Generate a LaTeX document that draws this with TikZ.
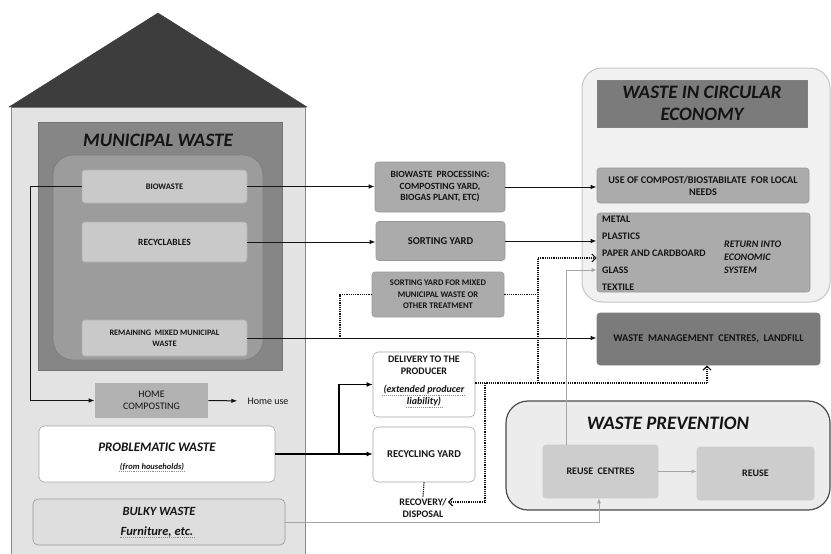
\documentclass[tikz,border=0pt]{standalone}
\usepackage{fontspec}
\setmainfont{Carlito}
\usetikzlibrary{arrows.meta}
\definecolor{housefill}{HTML}{E3E3E3}
\definecolor{houseedge}{HTML}{8A8A8A}
\definecolor{roof}{HTML}{3D3D3D}
\definecolor{muni}{HTML}{868686}
\definecolor{inner}{HTML}{9C9C9C}
\definecolor{lightbox}{HTML}{C9C9C9}
\definecolor{homebox}{HTML}{B2B2B2}
\definecolor{midbox}{HTML}{ABABAB}
\definecolor{darkbox}{HTML}{7B7B7B}
\definecolor{cefill}{HTML}{F1F1F1}
\definecolor{wpfill}{HTML}{ECECEC}
\definecolor{reusebox}{HTML}{CDCDCD}
\definecolor{ink}{HTML}{141414}
\begin{document}
\begin{tikzpicture}[x=1pt,y=-1pt,
  lbl/.style={font=\bfseries\fontsize{9.5}{11}\selectfont, align=center, text=ink, inner sep=1pt},
  plain/.style={font=\fontsize{10}{11.5}\selectfont, align=center, text=ink, inner sep=1pt},
  title/.style={font=\bfseries\itshape\fontsize{19}{22}\selectfont, align=center, text=ink, inner sep=0pt},
  midtitle/.style={font=\bfseries\itshape\fontsize{12.5}{14}\selectfont, align=center, text=ink, inner sep=0pt},
  wavyline/.style={draw=black!45, line width=0.9pt, densely dotted},
  boxbase/.style={rounded corners=3pt, line width=0.6pt, inner sep=0pt},
  lbox/.style={boxbase, fill=lightbox, draw=black!30},
  mbox/.style={boxbase, fill=midbox, draw=black!40},
  dbox/.style={boxbase, fill=darkbox, draw=black!50},
  wbox/.style={boxbase, fill=white, draw=black!35},
  gbox/.style={boxbase, fill=reusebox, draw=black!20},
  conn/.style={draw=ink, line width=1pt, -{Latex[length=6pt,width=4.5pt]}},
  thick conn/.style={draw=black, line width=1.8pt, -{Latex[length=6pt,width=5pt]}},
  dotconn/.style={draw=ink, line width=1.2pt, densely dotted},
  dotarrow/.style={dotconn, -{Straight Barb[length=4pt,width=8pt,line width=1.2pt]}},
  grayconn/.style={draw=black!35, line width=0.9pt, -{Latex[length=5pt,width=4pt]}},
]
\useasboundingbox (0,0) rectangle (831,554);
\fill[white] (0,0) rectangle (831,554);

% house
\filldraw[fill=housefill, draw=houseedge, line width=1pt] (11,107) rectangle (305,560);
\filldraw[fill=roof, draw=roof] (9,107) -- (158,13) -- (307,107) -- cycle;
\filldraw[fill=muni, draw=black!55, line width=0.6pt] (38,122) rectangle (282,370);
\node[title] (muniT) at (158,140) {MUNICIPAL WASTE};
\filldraw[fill=inner, draw=black!50, line width=0.8pt, rounded corners=20pt] (53,155) rectangle (263,360);

\node[lbox, lbl, font=\bfseries\fontsize{8.5}{11}\selectfont, minimum width=165pt, minimum height=33pt] (bio) at (164.5,186.5) {BIOWASTE};
\node[lbox, lbl, font=\bfseries\fontsize{9.5}{11}\selectfont, minimum width=165pt, minimum height=40pt] (recyc) at (164.5,242) {RECYCLABLES};
\node[lbox, lbl, font=\bfseries\fontsize{8.3}{11}\selectfont, minimum width=165pt, minimum height=36pt] (remain) at (164.5,338) {REMAINING\ \ MIXED MUNICIPAL\\WASTE};

\node[boxbase, rounded corners=0pt, fill=homebox, plain, minimum width=113pt, minimum height=35pt] (home) at (151.5,400.5) {HOME\\COMPOSTING};
\node[plain] (homeuse) at (268,401) {Home use};

\node[wbox, minimum width=236pt, minimum height=56pt, rounded corners=5pt] (prob) at (157,454) {};
\node[midtitle, font=\bfseries\itshape\fontsize{13}{14}\selectfont] (probT) at (157,447) {PROBLEMATIC WASTE};
\node[font=\bfseries\itshape\fontsize{8.5}{9}\selectfont, text=ink, inner sep=0.5pt] (probS) at (152,467) {(from households)};
\draw[wavyline] (probS.south west) -- (probS.south east);

\node[boxbase, fill=black!13, draw=black!40, rounded corners=5pt, minimum width=252pt, minimum height=46pt] (bulky) at (159,522) {};
\node[midtitle] (bulkyT) at (159,511) {BULKY WASTE};
\node[midtitle, inner sep=1pt] (bulkyS) at (157,532) {Furniture, etc.};
\draw[wavyline] ([yshift=1pt]bulkyS.south west) -- ([yshift=1pt]bulkyS.south east);

% middle column
\node[mbox, lbl, minimum width=130pt, minimum height=50pt] (bproc) at (440,187) {BIOWASTE\ \ PROCESSING:\\[1pt] COMPOSTING YARD,\\BIOGAS PLANT, ETC)};
\node[mbox, lbl, font=\bfseries\fontsize{10.5}{12}\selectfont, minimum width=129pt, minimum height=39pt] (sort) at (440.5,241) {SORTING YARD};
\node[mbox, lbl, font=\bfseries\fontsize{8.6}{11.5}\selectfont, minimum width=132pt, minimum height=45pt] (sortmix) at (438,294.5) {SORTING YARD FOR MIXED\\MUNICIPAL WASTE OR\\OTHER TREATMENT};
\node[wbox, minimum width=102pt, minimum height=65pt, rounded corners=5pt] (deliv) at (424,384.5) {};
\node[lbl, font=\bfseries\fontsize{10}{12}\selectfont] (delivT) at (424,365) {DELIVERY TO THE\\PRODUCER};
\node[lbl, font=\bfseries\itshape\fontsize{10}{11}\selectfont] (delivS1) at (424,390) {(extended producer};
\node[lbl, font=\bfseries\itshape\fontsize{10}{11}\selectfont] (delivS2) at (424,402) {liability)};
\draw[wavyline] (delivS1.south west) -- (delivS1.south east);
\draw[wavyline] (delivS2.south west) -- (delivS2.south east);
\node[wbox, lbl, font=\bfseries\fontsize{10.5}{12}\selectfont, minimum width=102pt, minimum height=55pt, rounded corners=5pt] (ryard) at (424,454.5) {RECYCLING YARD};
\node[lbl, font=\bfseries\fontsize{10}{12}\selectfont] (recov) at (423,508) {RECOVERY/\\DISPOSAL};

% circular economy
\filldraw[fill=cefill, draw=black!22, line width=1pt, rounded corners=20pt] (582,68) rectangle (830,302);
\node[dbox, rounded corners=0pt, title, minimum width=210pt, minimum height=47pt] (cetitle) at (702,103.5) {WASTE IN CIRCULAR\\ECONOMY};
\node[mbox, lbl, font=\bfseries\fontsize{10.2}{12}\selectfont, minimum width=212pt, minimum height=35pt] (compost) at (703,185.5) {USE OF COMPOST/BIOSTABILATE\ \ FOR LOCAL\\NEEDS};
\node[mbox, minimum width=213pt, minimum height=79pt] (ret) at (703.5,252.5) {};
\node[lbl, align=left, anchor=west, font=\bfseries\fontsize{10}{17}\selectfont] (retlist) at (601,253.5) {METAL\\PLASTICS\\PAPER AND CARDBOARD\\GLASS\\TEXTILE};
\node[lbl, align=left, anchor=west, font=\bfseries\itshape\fontsize{10}{13}\selectfont] (rettext) at (723,257) {RETURN INTO\\ECONOMIC\\SYSTEM};

\node[dbox, lbl, font=\bfseries\fontsize{10.3}{12}\selectfont, minimum width=223pt, minimum height=52pt] (wmc) at (708.5,339) {WASTE\ \ MANAGEMENT\ \ CENTRES,\ \ LANDFILL};

% waste prevention
\filldraw[fill=wpfill, draw=black!70, line width=1.2pt, rounded corners=22pt] (506,401) rectangle (830,510);
\node[title] (wpT) at (668,423) {WASTE PREVENTION};
\node[gbox, lbl, font=\bfseries\fontsize{10}{12}\selectfont, minimum width=115pt, minimum height=53pt] (rc) at (600.5,471.5) {REUSE\ \ CENTRES};
\node[gbox, lbl, font=\bfseries\fontsize{10}{12}\selectfont, minimum width=117pt, minimum height=53pt] (reuse) at (755.5,473.5) {REUSE};

% junction coordinates
\coordinate (lft) at (30,186.5);
\coordinate (j1) at (340,338);
\coordinate (d1) at (538,294.5);
\coordinate (d2) at (538,258);
\coordinate (d3) at (538,383);
\coordinate (d4) at (485,383);
\coordinate (d5) at (485,502);
\coordinate (d6) at (707,383);
\coordinate (pb) at (339,454);
\coordinate (g1) at (599,522);
\coordinate (g2) at (566,270);

% solid connectors
\draw[conn] (bio.west) -- (lft) |- (home.west);
\draw[conn, shorten >=9pt] (home.east) -- (homeuse.west);
\draw[conn] (bio.east) -- (bio.east -| bproc.west);
\draw[conn] (recyc.east) -- (recyc.east -| sort.west);
\draw[conn] (remain.east) -- (remain.east -| wmc.west);
\draw[conn] (bproc.east) -- (bproc.east -| compost.west);
\draw[conn] (sort.east) -- (sort.east -| ret.west);
\draw[thick conn] (prob.east) -- (prob.east -| ryard.west);
\draw[thick conn] (pb) |- (deliv.west);

% dotted connectors
\draw[dotconn] (sortmix.west) -| (j1);
\draw[dotconn] (sortmix.east) -- (d1);
\draw[dotconn] (d3) -- (d2);
\draw[dotarrow] (d2) -- (d2 -| ret.west);
\draw[dotconn] (deliv.east |- d4) -- (d6);
\draw[dotarrow] (d6) -- (d6 |- wmc.south);
\draw[dotconn] (d4) -- (d5);
\draw[dotarrow] (d5) -- (recov.east |- d5);
\draw[dotconn] (ryard.south) -- (recov.north);

% gray connectors
\draw[grayconn] (bulky.east) -- (g1) -- (g1 |- rc.south);
\draw[grayconn] (rc.north -| g2) -- (g2) -- (g2 -| ret.west);
\draw[grayconn] (rc.east) -- (rc.east -| reuse.west);
\end{tikzpicture}
\end{document}
